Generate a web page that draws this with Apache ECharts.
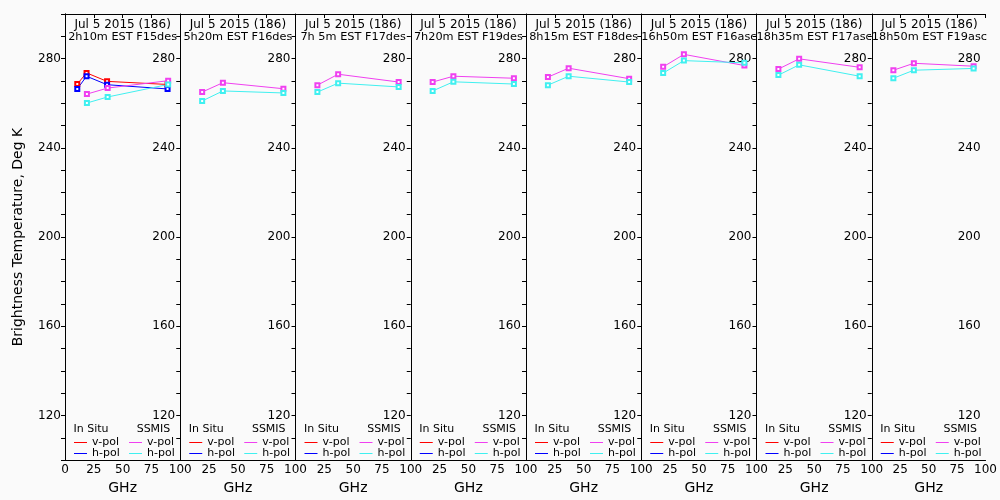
<!DOCTYPE html>
<html lang="en">
<head>
    <meta charset="UTF-8">
    <title>Brightness Temperature vs GHz, Jul 5 2015</title>
    <script type="text/javascript" src="https://cdn.jsdelivr.net/npm/echarts@6/dist/echarts.min.js"></script>
    <style>
        body { margin: 0; background: #fafafa; }
        #main { width: 1000px; height: 500px; }
    </style>
</head>
<body>
    <div id="main"></div>
    <script type="text/javascript">
        // data
        var dateLabel = 'Jul 5 2015 (186)'
        var passLabels = ['2h10m EST F15des', '5h20m EST F16des', '7h 5m EST F17des', '7h20m EST F19des',
            '8h15m EST F18des', '16h50m EST F16asc', '18h35m EST F17asc', '18h50m EST F19asc']
        var inSituGHz = [10.65, 18.7, 36.5, 89.0]
        var ssmisGHz = [19.0, 37.0, 89.5]
        var inSituV = [268.6, 273.6, 269.8, 268.4]
        var inSituH = [266.4, 272.1, 268.3, 266.4]
        var ssmisV = [
            [264.1, 266.8, 270.1],
            [265.0, 269.2, 266.5],
            [268.1, 273.0, 269.5],
            [269.5, 272.1, 271.2],
            [271.7, 275.7, 271.0],
            [276.3, 281.9, 276.9],
            [275.3, 279.9, 276.1],
            [274.8, 277.9, 276.6]
        ]
        var ssmisH = [
            [260.1, 262.8, 268.4],
            [261.0, 265.5, 264.6],
            [265.0, 269.0, 267.3],
            [265.5, 269.6, 268.6],
            [268.1, 272.1, 269.5],
            [273.5, 279.1, 278.1],
            [272.6, 277.2, 272.1],
            [271.2, 274.8, 275.6]
        ]
        var xTicks = [0, 25, 50, 75, 100]
        var yLabels = [120, 160, 200, 240, 280]

        var colors = {
            'In Situ v-pol': '#ff0000',
            'In Situ h-pol': '#0000ff',
            'SSMIS v-pol': '#f040f0',
            'SSMIS h-pol': '#40f0f0'
        }

        function pairs(xs, ys) {
            var out = []
            for (var k = 0; k < xs.length; k++) out.push([xs[k], ys[k]])
            return out
        }

        function lineSeries(name, data, panel) {
            return {
                type: 'line',
                name: name,
                xAxisIndex: panel * 2,
                yAxisIndex: panel,
                data: data,
                symbol: 'emptyRect',
                symbolSize: 4,
                itemStyle: { color: colors[name], borderWidth: 1 },
                lineStyle: { color: colors[name], width: 1 },
                silent: true
            }
        }

        // one legend per row so every line sample lands on a whole pixel
        function legendRow(name, left, top) {
            return {
                left: left, top: top, padding: 0,
                itemWidth: 13, itemHeight: 1, icon: 'rect', selectedMode: false,
                formatter: function (n) { return n.split(' ').pop() },
                textStyle: { fontSize: 11, color: '#000', lineHeight: 11 },
                data: [{ name: name, itemStyle: { color: colors[name], borderWidth: 0 } }]
            }
        }

        var left0 = 65, panelW = 115.25, top0 = 14, panelH = 450
        var grids = [], xAxes = [], yAxes = [], series = [], titles = [], legends = []
        var axisLine = { show: true, lineStyle: { color: '#000', width: 1 } }

        for (var i = 0; i < passLabels.length; i++) {
            var L = left0 + panelW * i
            grids.push({ left: L, top: top0, width: panelW, height: panelH })

            // bottom axis with labels
            xAxes.push({
                gridIndex: i, type: 'value', position: 'bottom',
                min: xTicks[0], max: xTicks[xTicks.length - 1], interval: 25,
                axisLine: axisLine,
                axisTick: { show: false },
                axisLabel: { fontSize: 12, color: '#000', margin: 4, showMinLabel: i === 0 },
                splitLine: { show: false },
                name: 'GHz', nameLocation: 'middle', nameGap: 20,
                nameTextStyle: { fontSize: 14, color: '#000' }
            })
            // top axis, ticks only
            xAxes.push({
                gridIndex: i, type: 'value', position: 'top',
                min: xTicks[0], max: xTicks[xTicks.length - 1], interval: 25,
                axisLine: axisLine,
                axisTick: { show: true, inside: true, length: 4, lineStyle: { color: '#000' } },
                axisLabel: { show: false },
                splitLine: { show: false }
            })
            yAxes.push({
                gridIndex: i, type: 'value', position: 'right',
                min: 100, max: 300, interval: 10,
                axisLine: axisLine,
                axisTick: { show: true, inside: true, length: 4, lineStyle: { color: '#000' } },
                axisLabel: {
                    inside: true, fontSize: 12, color: '#000', margin: 5,
                    formatter: function (v) { return yLabels.indexOf(v) > -1 ? String(v) : '' }
                },
                splitLine: { show: false }
            })

            if (i === 0) {
                series.push(lineSeries('In Situ v-pol', pairs(inSituGHz, inSituV), i))
                series.push(lineSeries('In Situ h-pol', pairs(inSituGHz, inSituH), i))
            }
            series.push(lineSeries('SSMIS v-pol', pairs(ssmisGHz, ssmisV[i]), i))
            series.push(lineSeries('SSMIS h-pol', pairs(ssmisGHz, ssmisH[i]), i))

            // two-line panel heading
            titles.push({
                text: dateLabel,
                subtext: passLabels[i],
                left: L + panelW / 2, top: 18, textAlign: 'center', padding: 0, itemGap: 0,
                textStyle: { fontSize: 12, fontWeight: 'normal', color: '#000', lineHeight: 13 },
                subtextStyle: { fontSize: 11.3, color: '#000', lineHeight: 13 }
            })
            titles.push({
                text: 'In Situ', left: L + 26, top: 423, textAlign: 'center', padding: 0,
                textStyle: { fontSize: 11, fontWeight: 'normal', color: '#000', lineHeight: 12 }
            })
            titles.push({
                text: 'SSMIS', left: L + 88.5, top: 423, textAlign: 'center', padding: 0,
                textStyle: { fontSize: 11, fontWeight: 'normal', color: '#000', lineHeight: 12 }
            })

            legends.push(legendRow('In Situ v-pol', L + 9, 437))
            legends.push(legendRow('In Situ h-pol', L + 9, 448))
            legends.push(legendRow('SSMIS v-pol', L + 64, 437))
            legends.push(legendRow('SSMIS h-pol', L + 64, 448))
        }

        // left axis of the first panel carries the axis title
        yAxes.push({
            gridIndex: 0, type: 'value', position: 'left',
            min: 100, max: 300, interval: 10,
            axisLine: axisLine,
            axisTick: { show: true, length: 4, lineStyle: { color: '#000' } },
            axisLabel: {
                fontSize: 12, color: '#000', margin: 4,
                formatter: function (v) { return yLabels.indexOf(v) > -1 ? String(v) : '' }
            },
            splitLine: { show: false },
            name: 'Brightness Temperature, Deg K', nameLocation: 'middle', nameGap: 40,
            nameTextStyle: { fontSize: 14, color: '#000' }
        })

        var myChart = echarts.init(document.getElementById('main'))
        var option = {
            backgroundColor: '#fafafa',
            animation: false,
            textStyle: { fontFamily: 'DejaVu Sans' },
            title: titles,
            legend: legends,
            grid: grids,
            xAxis: xAxes,
            yAxis: yAxes,
            series: series
        }
        myChart.setOption(option)
    </script>
</body>
</html>
